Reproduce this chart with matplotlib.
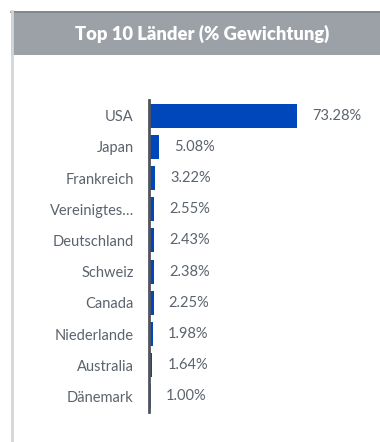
import matplotlib
matplotlib.use("Agg")
import matplotlib.pyplot as plt
from matplotlib.patches import Rectangle

countries = ["USA", "Japan", "Frankreich", "Vereinigtes…", "Deutschland",
             "Schweiz", "Canada", "Niederlande", "Australia", "Dänemark"]
weights = [73.28, 5.08, 3.22, 2.55, 2.43, 2.38, 2.25, 1.98, 1.64, 1.00]
title = "Top 10 Länder (% Gewichtung)"

plt.rcParams["font.family"] = ["Lato", "DejaVu Sans"]

W, H = 380, 442
fig = plt.figure(figsize=(W / 100, H / 100), dpi=100)

# Frame: grey header band and light left border
bg = fig.add_axes([0, 0, 1, 1])
bg.set_xlim(0, W)
bg.set_ylim(H, 0)
bg.axis("off")
bg.add_patch(Rectangle((11, 11), W - 11, 44, facecolor="#9ba1a7", edgecolor="none"))
bg.plot([11, W], [11.5, 11.5], color="#7d838a", lw=1.2)
bg.plot([11.5, 11.5], [11, H], color="#d3d6d9", lw=2)
bg.text(202, 34, title, color="white", fontsize=13.2, fontweight="heavy",
        ha="center", va="center")

# Bar chart area (pixel placement)
left, right, top, bottom = 149, 370, 100, 412
ax = fig.add_axes([left / W, 1 - bottom / H, (right - left) / W, (bottom - top) / H])
xmax = (right - left - 1) / 147 * 73.28
ax.set_xlim(0, xmax)
ax.set_ylim(len(countries) - 0.5, -0.5)

ypos = list(range(len(countries)))
ax.barh(ypos, weights, height=0.77, color="#0047bb")
for y, v in zip(ypos, weights):
    ax.text(v + 7.5, y, f"{v:.2f}%", color="#5b636d", fontsize=10.5,
            ha="left", va="center")

ax.set_yticks(ypos)
ax.set_yticklabels(countries, color="#5b636d", fontsize=10.5)
ax.tick_params(axis="y", length=0, pad=11)
ax.set_xticks([])
for s in ["top", "right", "bottom"]:
    ax.spines[s].set_visible(False)
ax.spines["left"].set_color("#50555c")
ax.spines["left"].set_linewidth(2)
ax.patch.set_alpha(0)

fig.savefig("out.png", dpi=100, facecolor="white")
